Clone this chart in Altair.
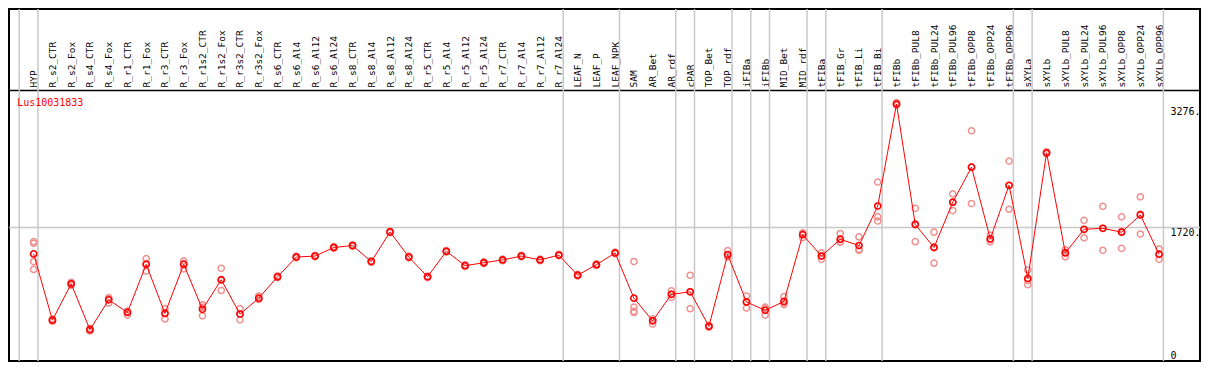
import json
import altair as alt
import pandas as pd

gene = "Lus10031833"

samples = [
    "HYP", "R_s2_CTR", "R_s2_Fox", "R_s4_CTR", "R_s4_Fox", "R_r1_CTR", "R_r1_Fox",
    "R_r3_CTR", "R_r3_Fox", "R_r1s2_CTR", "R_r1s2_Fox", "R_r3s2_CTR", "R_r3s2_Fox",
    "R_s6_CTR", "R_s6_Al4", "R_s6_Al12", "R_s6_Al24", "R_s8_CTR", "R_s8_Al4",
    "R_s8_Al12", "R_s8_Al24", "R_r5_CTR", "R_r5_Al4", "R_r5_Al12", "R_r5_Al24",
    "R_r7_CTR", "R_r7_Al4", "R_r7_Al12", "R_r7_Al24", "LEAF_N", "LEAF_P", "LEAF_NPK",
    "SAM", "AR_Bet", "AR_rdf", "cPAR", "TOP_Bet", "TOP_rdf", "iFIBa", "iFIBb",
    "MID_Bet", "MID_rdf", "tFIBa", "tFIB_Gr", "tFIB_Li", "tFIB_Bi", "tFIBb",
    "tFIBb_PUL8", "tFIBb_PUL24", "tFIBb_PUL96", "tFIBb_OPP8", "tFIBb_OPP24",
    "tFIBb_OPP96", "sXYLa", "sXYLb", "sXYLb_PUL8", "sXYLb_PUL24", "sXYLb_PUL96",
    "sXYLb_OPP8", "sXYLb_OPP24", "sXYLb_OPP96",
]

means = [
    1366, 475, 964, 346, 749, 578, 1225, 565, 1225, 620, 1019, 556, 771,
    1058, 1324, 1337, 1452, 1478, 1263, 1662, 1324, 1058, 1401, 1208, 1247,
    1285, 1337, 1285, 1350, 1079, 1221, 1379,
    771, 466, 822, 856, 392, 1357, 719, 607, 727, 1624, 1337, 1563, 1478, 2010,
    3382, 1761, 1452, 2061, 2533, 1568, 2289,
    1036, 2726, 1379, 1697, 1710, 1658, 1890, 1362,
]

replicates = [
    [1530, 1508, 1263, 1157], [490, 475, 460], [985, 964, 945], [365, 346, 330],
    [778, 762, 706], [598, 588, 543], [1302, 1238, 1135], [629, 572, 491],
    [1272, 1238, 1164], [681, 646, 534], [1173, 1010, 874], [629, 560, 479],
    [800, 758, 753], [1070, 1058, 1046], [1335, 1324, 1313], [1348, 1337, 1326],
    [1463, 1452, 1441], [1489, 1478, 1467], [1274, 1263, 1252], [1673, 1662, 1651],
    [1335, 1324, 1313], [1069, 1058, 1047], [1412, 1401, 1390], [1219, 1208, 1197],
    [1258, 1247, 1236], [1296, 1285, 1274], [1348, 1337, 1326], [1296, 1285, 1274],
    [1361, 1350, 1339], [1090, 1079, 1068], [1232, 1221, 1210], [1390, 1379, 1368],
    [1263, 650, 594, 578], [491, 466, 423], [868, 822, 783], [1079, 856, 629],
    [405, 392, 380], [1409, 1337, 1325], [800, 720, 637], [650, 628, 543],
    [791, 706, 684], [1649, 1638, 1585], [1379, 1339, 1293], [1640, 1528, 1521],
    [1594, 1426, 1414], [2331, 1864, 1808], [3400, 3382, 3365],
    [1980, 1773, 1530], [1658, 1457, 1241], [2173, 2061, 1949], [3022, 2533, 2044],
    [1615, 1559, 1530], [2614, 2286, 1967], [1151, 1006, 951], [2740, 2726, 2712],
    [1422, 1387, 1328], [1817, 1693, 1581], [2006, 1710, 1414], [1864, 1670, 1440],
    [2134, 1903, 1633], [1434, 1359, 1293],
]

# group separators: drawn just after these samples (None = before the first)
group_ends = [None, "HYP", "R_r7_Al24", "LEAF_NPK", "AR_rdf", "cPAR", "TOP_rdf",
              "iFIBa", "iFIBb", "MID_rdf", "tFIBa", "tFIB_Bi", "tFIBb_OPP96",
              "sXYLa", "sXYLb_OPP96"]

y_ticks = [0, 1720, 3276]
grid_values = [1720]

# ---------------------------------------------------------------------------
mean_df = pd.DataFrame({"idx": range(len(samples)), "sample": samples, "value": means})
rep_rows = []
for i, reps in enumerate(replicates):
    for v in reps:
        rep_rows.append({"idx": i, "sample": samples[i], "value": v})
rep_df = pd.DataFrame(rep_rows)

sep_df = pd.DataFrame({
    "idx": [(-1 if g is None else samples.index(g)) + 0.23 for g in group_ends]
})
grid_df = pd.DataFrame({"value": grid_values})
title_df = pd.DataFrame({"idx": [-0.88], "value": [3399], "label": [gene]})

FONT = "DejaVu Sans Mono"
xscale = alt.Scale(domain=[-1.315, 62.18], nice=False, zero=False)
yscale = alt.Scale(domain=[-74.6, 4660], nice=False, zero=False)

label_expr = json.dumps(samples) + "[datum.value]"

x_axis = alt.Axis(
    orient="top", offset=-81, values=list(range(len(samples))), labelExpr=label_expr,
    labelAngle=270, labelAlign="left", labelBaseline="middle", labelPadding=3,
    labelFont=FONT, labelFontSize=9.5, labelColor="black", labelOverlap=False,
    labelFlush=False, labelBound=False, ticks=False, tickSize=0, grid=False,
    domain=True, domainColor="black", domainWidth=1.5, title=None,
)
y_axis = alt.Axis(
    orient="right", offset=-30, values=y_ticks,
    labelExpr="datum.value == 0 ? '0' : datum.value + '.'",
    labelAlign="left",
    labelBaseline={"condition": {"test": "datum.value == 1720", "value": "top"},
                   "value": "middle"},
    labelPadding=0, labelFont=FONT,
    labelFontSize=10, labelColor="black", ticks=False, tickSize=0, domain=False,
    grid=False, title=None, labelFlush=False, labelOverlap=False,
)

X = alt.X("idx:Q", scale=xscale, axis=x_axis)
Y = alt.Y("value:Q", scale=yscale, axis=y_axis)

seps = alt.Chart(sep_df).mark_rule(color="#c8c8c8", strokeWidth=1.5).encode(x=X)
grid = alt.Chart(grid_df).mark_rule(color="#c8c8c8", strokeWidth=1.5).encode(y=Y)
reps_layer = alt.Chart(rep_df).mark_point(
    shape="circle", filled=False, color="#ee9090", strokeWidth=1.5, size=38, opacity=1
).encode(x=X, y=Y)
line = alt.Chart(mean_df).mark_line(color="#ff0000", strokeWidth=1).encode(x=X, y=Y)
mean_pts = alt.Chart(mean_df).mark_point(
    shape="circle", filled=False, color="#ff0000", strokeWidth=1.6, size=38, opacity=1
).encode(x=X, y=Y)
title = alt.Chart(title_df).mark_text(
    align="left", baseline="middle", font=FONT, fontSize=10, color="#ff0000"
).encode(x=X, y=Y, text="label:N")

chart = alt.layer(seps, grid, reps_layer, line, mean_pts, title).properties(
    width=1191, height=352,
    autosize=alt.AutoSizeParams(type="none"),
    padding={"left": 1, "top": 1, "right": 1, "bottom": 1},
    background="white",
).configure_view(stroke="black", strokeWidth=2).configure_axis(labelOverlap=False)

chart.save("out.html", embed_options={"renderer": "svg", "actions": False})
